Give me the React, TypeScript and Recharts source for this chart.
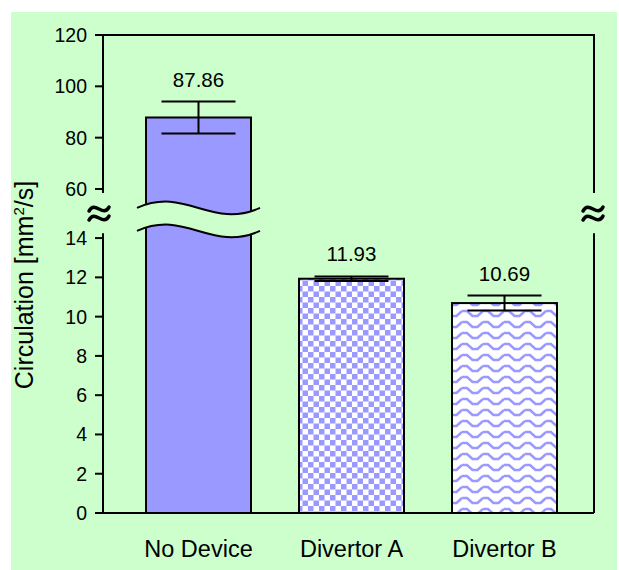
import React from "react";
import { Bar, BarChart, Cell, Customized, ErrorBar, XAxis, YAxis } from "recharts";

const categories = ["No Device", "Divertor A", "Divertor B"];
const means = [87.86, 11.93, 10.69];
const errors = [6.2, 0.12, 0.38];
const lowerTicks = [0, 2, 4, 6, 8, 10, 12, 14];
const upperTicks = [60, 80, 100, 120];
const barFills = ["#9999FF", "url(#checker)", "url(#waves)"];

// broken axis: 0-14 on the lower part, 60-120 squeezed on top
const BREAK_LOW = 14;
const BREAK_HIGH = 60;
const GAP = 2.5;
const UPPER_RATIO = 0.1307;

const toT = (v: number) =>
  v <= BREAK_LOW
    ? v
    : v >= BREAK_HIGH
      ? BREAK_LOW + GAP + (v - BREAK_HIGH) * UPPER_RATIO
      : BREAK_LOW + (GAP * (v - BREAK_LOW)) / (BREAK_HIGH - BREAK_LOW);

const fromT = (t: number) =>
  t <= BREAK_LOW + 0.001 ? t : BREAK_HIGH + (t - BREAK_LOW - GAP) / UPPER_RATIO;

const T_MAX = toT(upperTicks[upperTicks.length - 1]);
const BREAK_CENTER = BREAK_LOW + 0.95;
const MARK_CENTER = BREAK_LOW + 1.25;

const rows = categories.map((name, i) => ({
  name,
  value: means[i],
  t: toT(means[i]),
  err: toT(means[i] + errors[i]) - toT(means[i]),
}));

const yTicks = [...lowerTicks, ...upperTicks].map(toT);

const CHART_W = 619;
const CHART_H = 570;
const MARGIN = { top: 35, right: 25, bottom: 0, left: 0 };
const Y_AXIS_W = 103;
const X_AXIS_H = 57;
const PLOT_LEFT = MARGIN.left + Y_AXIS_W;
const PLOT_RIGHT = CHART_W - MARGIN.right;
const PLOT_TOP = MARGIN.top;
const PLOT_BOTTOM = CHART_H - MARGIN.bottom - X_AXIS_H;
const yPix = (t: number) => PLOT_BOTTOM - ((PLOT_BOTTOM - PLOT_TOP) * t) / T_MAX;

const FONT = "'Liberation Sans', Arial, sans-serif";

const BarShape = (props: any) => {
  const { x, y, width, height, fill, payload } = props;
  const bottom = y + height;
  const ppu = height / payload.t;
  const errTop = y - payload.err * ppu;

  let brk = null;
  if (payload.value > BREAK_HIGH) {
    const yc = bottom - BREAK_CENTER * ppu;
    const L = x - 9;
    const R = x + width + 9;
    const a = (R - L) * 0.4;
    const h = 22;
    const yu = yc - 11.5;
    const yl = yc + 11.5;
    const upper = `M${L},${yu} C${L + a},${yu - h} ${R - a},${yu + h} ${R},${yu}`;
    const lower = `M${L},${yl} C${L + a},${yl - h} ${R - a},${yl + h} ${R},${yl}`;
    const band = `${upper} L${R},${yl} C${R - a},${yl + h} ${L + a},${yl - h} ${L},${yl} Z`;
    brk = (
      <g>
        <path d={band} fill="#CCFFCC" stroke="none" />
        <path d={upper} fill="none" stroke="#000" strokeWidth={2} />
        <path d={lower} fill="none" stroke="#000" strokeWidth={2} />
      </g>
    );
  }

  return (
    <g>
      <rect x={x} y={y} width={width} height={height} fill={fill} stroke="#000" strokeWidth={2} />
      {brk}
      <text
        x={x + width / 2}
        y={errTop - 15}
        textAnchor="middle"
        fontSize={20.5}
        fontFamily={FONT}
        fill="#000"
      >
        {payload.value.toFixed(2)}
      </text>
    </g>
  );
};

const Squiggle = ({ cx, cy }: { cx: number; cy: number }) => (
  <g>
    {[-4.5, 4.5].map((d) => (
      <path
        key={d}
        d={`M${cx - 10},${cy + d + 2} C${cx - 4},${cy + d - 9} ${cx + 4},${cy + d + 9} ${cx + 10},${cy + d - 2}`}
        fill="none"
        stroke="#000"
        strokeWidth={3.5}
        strokeLinecap="round"
      />
    ))}
  </g>
);

const Frame = () => {
  const gapTop = yPix(toT(BREAK_HIGH) - 0.2);
  const gapBottom = yPix(BREAK_LOW + 0.25);
  const markY = yPix(MARK_CENTER);
  const titleX = 33;
  const titleY = (PLOT_TOP + PLOT_BOTTOM) / 2 + 11;
  return (
    <g>
      <line x1={PLOT_LEFT} y1={PLOT_TOP} x2={PLOT_RIGHT} y2={PLOT_TOP} stroke="#000" strokeWidth={2} />
      <line x1={PLOT_LEFT} y1={PLOT_TOP} x2={PLOT_LEFT} y2={gapTop} stroke="#000" strokeWidth={2} />
      <line x1={PLOT_LEFT} y1={gapBottom} x2={PLOT_LEFT} y2={PLOT_BOTTOM} stroke="#000" strokeWidth={2} />
      <line x1={PLOT_RIGHT} y1={PLOT_TOP - 1} x2={PLOT_RIGHT} y2={gapTop} stroke="#000" strokeWidth={2} />
      <line x1={PLOT_RIGHT} y1={gapBottom} x2={PLOT_RIGHT} y2={PLOT_BOTTOM} stroke="#000" strokeWidth={2} />
      <Squiggle cx={PLOT_LEFT - 4} cy={markY} />
      <Squiggle cx={PLOT_RIGHT - 1} cy={markY} />
      <text
        x={titleX}
        y={titleY}
        transform={`rotate(-90 ${titleX} ${titleY})`}
        textAnchor="middle"
        fontSize={25}
        fontFamily={FONT}
        fill="#000"
      >
        Circulation [mm
        <tspan dy={-9} fontSize={15}>2</tspan>
        <tspan dy={9}>/s]</tspan>
      </text>
    </g>
  );
};

export default function App() {
  return (
    <div style={{ position: "absolute", left: 0, top: 0, width: CHART_W, height: CHART_H, background: "#fff" }}>
      <svg width={0} height={0} style={{ position: "absolute" }}>
        <defs>
          <pattern id="checker" width={11} height={11} patternUnits="userSpaceOnUse">
            <rect width={11} height={11} fill="#fff" />
            <rect width={5.5} height={5.5} fill="#9999FF" />
            <rect x={5.5} y={5.5} width={5.5} height={5.5} fill="#9999FF" />
          </pattern>
          <pattern id="waves" width={21} height={11} patternUnits="userSpaceOnUse">
            <rect width={21} height={11} fill="#fff" />
            <path d="M0,3 L5,3 L10.5,8 L15.5,8 L21,3" fill="none" stroke="#9999FF" strokeWidth={2.5} />
          </pattern>
        </defs>
      </svg>
      <div style={{ position: "absolute", left: 11, top: 12, width: 606, height: 558, background: "#CCFFCC" }} />
      <div style={{ position: "absolute", left: 0, top: 0 }}>
        <BarChart width={CHART_W} height={CHART_H} data={rows} margin={MARGIN}>
          <XAxis
            dataKey="name"
            height={X_AXIS_H}
            tickLine={false}
            tickSize={0}
            tickMargin={27}
            axisLine={{ stroke: "#000", strokeWidth: 2 }}
            padding={{ left: 19, right: 13 }}
            tick={{ fontSize: 23.5, fill: "#000", fontFamily: FONT }}
          />
          <YAxis
            type="number"
            width={Y_AXIS_W}
            domain={[0, T_MAX]}
            ticks={yTicks}
            interval={0}
            allowDataOverflow
            tickFormatter={(t: number) => String(Math.round(fromT(t)))}
            axisLine={false}
            tickSize={8}
            tickMargin={8}
            tickLine={{ stroke: "#000", strokeWidth: 2 }}
            tick={{ fontSize: 19.5, fill: "#000", fontFamily: FONT }}
          />
          <Bar dataKey="t" barSize={105} shape={BarShape} isAnimationActive={false}>
            {rows.map((r, i) => (
              <Cell key={r.name} fill={barFills[i]} />
            ))}
            <ErrorBar dataKey="err" width={37} stroke="#000" strokeWidth={2} direction="y" isAnimationActive={false} />
          </Bar>
          <Customized component={Frame} />
        </BarChart>
      </div>
    </div>
  );
}
